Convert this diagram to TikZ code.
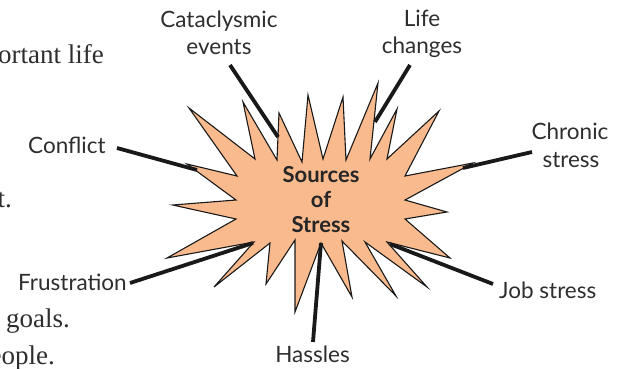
\documentclass[tikz,border=0pt]{standalone}
\usepackage{fontspec}
\setmainfont{Lato}
\newfontfamily\bodyserif{Liberation Serif}
\definecolor{starfill}{HTML}{F9BA8D}
\definecolor{labelgray}{HTML}{2E2E2E}
\tikzset{
  lbl/.style={inner sep=0pt, text=labelgray, font=\fontsize{22.5}{26}\selectfont},
  bodytxt/.style={inner sep=0pt, text=labelgray, font=\bodyserif\fontsize{27}{30}\selectfont},
  ctr/.style={inner sep=0pt, text=black!85, font=\bfseries\fontsize{22}{25}\selectfont},
  starstyle/.style={draw=black!90, line width=1.1pt, fill=starfill, line join=miter},
  leader/.style={draw=black!90, line width=3.8pt}
}
\begin{document}
\begin{tikzpicture}[x=1pt,y=-1pt]
\useasboundingbox (0,0) rectangle (622,368);
\clip (0,0) rectangle (622,368);

% body text fragments
\node[bodytxt, anchor=base east] (b1) at (104,63) {ortant life};
\node[bodytxt, anchor=base east] (b2) at (12,207) {t.};
\node[bodytxt, anchor=base west] (b3) at (6,327) {goals.};
\node[bodytxt, anchor=base east] (b4) at (55,364) {eople.};

% star burst
\draw[starstyle] (172.7,205) -- (236,200) -- (187,164) -- (237,176) -- (189,108)
  -- (255,159) -- (243,102) -- (277,160) -- (279,113) -- (302,162) -- (308,95)
  -- (323,159) -- (343,97) -- (346,160) -- (378,83) -- (370,159) -- (397,109)
  -- (387,159) -- (439,111) -- (405,176) -- (473,163) -- (405,200) -- (447,212)
  -- (405,219) -- (450,258) -- (387,242) -- (427,287) -- (365,242) -- (396,296)
  -- (342,241) -- (352,297) -- (321,243) -- (295,312) -- (295,240) -- (266,284)
  -- (270,243) -- (214,287) -- (254,242) -- (167,258) -- (236,219) -- cycle;

% centre text
\node[ctr, anchor=base] (c1) at (321,182) {Sources};
\node[ctr, anchor=base] (c2) at (321,207) {of};
\node[ctr, anchor=base] (c3) at (321,232) {Stress};

% labels
\node[lbl, anchor=base] (cat1) at (219,27) {Cataclysmic};
\node[lbl, anchor=base] (cat2) at (219,54) {events};
\node[lbl, anchor=base] (life1) at (422,26) {Life};
\node[lbl, anchor=base] (life2) at (422,53) {changes};
\node[lbl, anchor=base] (chr1) at (570,139) {Chronic};
\node[lbl, anchor=base] (chr2) at (571,167) {stress};
\node[lbl, anchor=base west] (conf) at (28,153) {Conflict};
\node[lbl, anchor=base west] (frus) at (18,290) {Frustration};
\node[lbl, anchor=base west] (job) at (499,298) {Job stress};
\node[lbl, anchor=base] (has) at (312.5,362) {Hassles};

% connector end points
\coordinate (catA) at (230,65);   \coordinate (catB) at (278,137);
\coordinate (lifeA) at (410,65);  \coordinate (lifeB) at (375,122);
\coordinate (chrA) at (532,152);  \coordinate (chrB) at (463,168);
\coordinate (confA) at (117,148); \coordinate (confB) at (197,170);
\coordinate (frusA) at (130,283); \coordinate (frusB) at (253,243);
\coordinate (jobA) at (493,284);  \coordinate (jobB) at (390,244);
\coordinate (hasA) at (313,342);  \coordinate (hasB) at (321,243);

\draw[leader] (catA) -- (catB);
\draw[leader] (lifeA) -- (lifeB);
\draw[leader] (chrA) -- (chrB);
\draw[leader] (confA) -- (confB);
\draw[leader] (frusA) -- (frusB);
\draw[leader] (jobA) -- (jobB);
\draw[leader] (hasA) -- (hasB);
\end{tikzpicture}
\end{document}
